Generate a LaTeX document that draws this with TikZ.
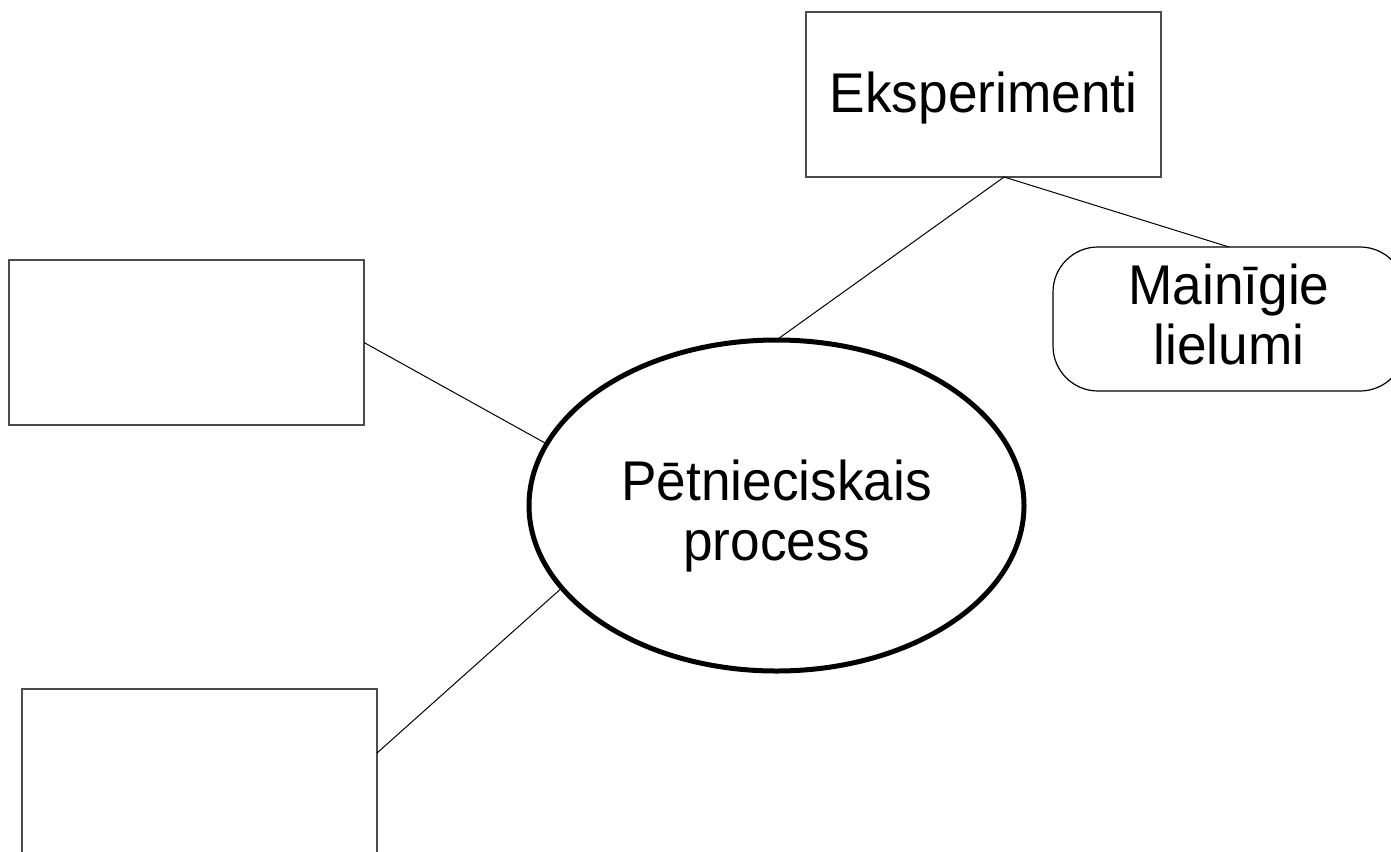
\documentclass[tikz,border=0pt]{standalone}
\usepackage{fontspec}
\setmainfont{Liberation Sans}[FakeStretch=0.95]
\usetikzlibrary{shapes.geometric,calc}
\begin{document}
\begin{tikzpicture}[x=1pt,y=-1pt,
  bigtext/.style={font=\fontsize{56}{60}\selectfont,align=center},
  box/.style={draw=black!70,line width=1.2pt,rectangle,inner sep=0pt,outer sep=0pt,
              minimum width=355pt,minimum height=165pt,bigtext},
  roundbox/.style={draw=black,line width=1.2pt,rectangle,rounded corners=45pt,inner sep=0pt,outer sep=0pt,
              minimum width=352pt,minimum height=144pt,bigtext},
  central/.style={draw=black,line width=5pt,ellipse,inner sep=0pt,outer sep=0pt,
              minimum width=495pt,minimum height=331pt,bigtext},
  link/.style={draw=black,line width=1pt}]
\clip (0,0) rectangle (1391,851);
\fill[white] (0,0) rectangle (1391,851);
\node[box,text depth=5pt] (eks) at (983.5,94.5) {Eksperimenti};
\node[roundbox,text height=92pt] (mai) at (1229,319) {Mainīgie\\lielumi};
\node[box] (b1) at (186.5,342.5) {};
\node[box] (b2) at (199.5,771.5) {};
\node[central,text height=121pt] (proc) at (776.5,505.5) {Pētnieciskais\\process};
\coordinate (eksb) at ($(eks.south west)!0.558!(eks.south east)$);
\coordinate (b2e) at ($(b2.north east)+(0,64)$);
\draw[link] (eksb) -- (proc.north);
\draw[link] (eksb) -- (mai.north);
\draw[link] (b1.east) -- (proc.165.5);
\draw[link] (b2e) -- (proc.201.5);
\end{tikzpicture}
\end{document}
